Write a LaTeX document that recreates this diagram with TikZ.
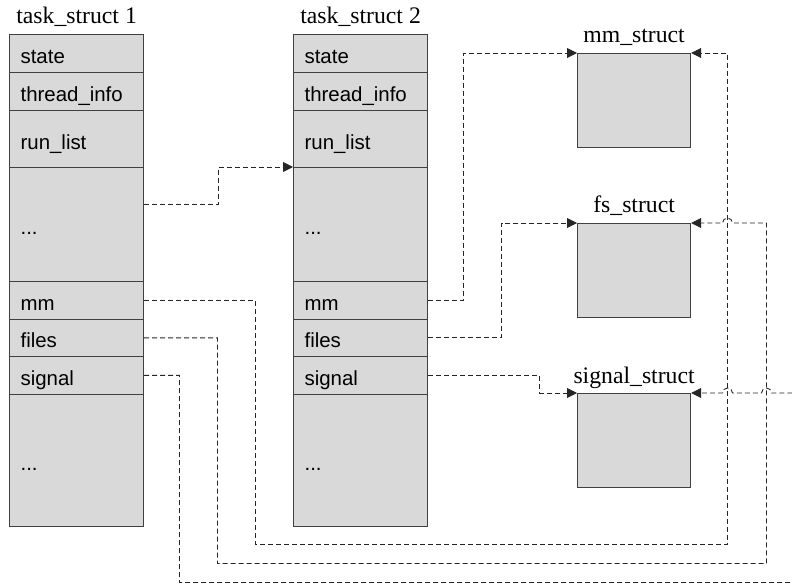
\documentclass[tikz,border=0pt]{standalone}
\usepackage{fontspec}
\setmainfont{Liberation Serif}
\newfontfamily\fieldfont{Liberation Sans}
\usetikzlibrary{arrows.meta, positioning}
\definecolor{boxfill}{HTML}{D9D9D9}
\definecolor{boxline}{HTML}{404040}

\begin{document}
\begin{tikzpicture}[x=1bp, y=-1bp,
    field/.style={draw=boxline, fill=boxfill, line width=1.2bp, anchor=north west,
      minimum width=134bp, text width=112bp, inner xsep=11bp, align=left,
      text height=20bp, text depth=0bp,
      font=\fieldfont\fontsize{20.5}{24}\selectfont},
    sbox/.style={draw=boxline, fill=boxfill, line width=1.2bp, anchor=north west,
      minimum width=113bp, minimum height=94bp},
    title/.style={font=\fontsize{23.8}{28}\selectfont, inner sep=0pt},
    link/.style={draw=black!85, line width=0.9bp, dash pattern=on 5bp off 3bp,
      -{Triangle[length=10bp,width=10bp]}}]
  \useasboundingbox (0,0) rectangle (792,584);
  % the two task structs
  \foreach \s/\x/\n in {a/9/1, b/293/2} {
    \node[field, minimum height=38bp] (\s-state) at (\x,34) {state};
    \node[field, minimum height=38bp] (\s-thread) at (\x,72) {thread\_info};
    \node[field, minimum height=57bp] (\s-run) at (\x,110) {run\_list};
    \node[field, minimum height=114bp] (\s-dots1) at (\x,167) {...};
    \node[field, minimum height=37.5bp] (\s-mm) at (\x,281) {mm};
    \node[field, minimum height=37.5bp] (\s-files) at (\x,318.5) {files};
    \node[field, minimum height=37.5bp] (\s-signal) at (\x,356) {signal};
    \node[field, minimum height=132.5bp] (\s-dots2) at (\x,393.5) {...};
    \node[title, above=10bp of \s-state.north, anchor=base] (\s-title) {task\_struct \n};
  }
  % shared structs
  \node[sbox] (mm) at (577,53) {};
  \node[sbox] (fs) at (577,223) {};
  \node[sbox] (sig) at (577,393) {};
  \node[title, above=10bp of mm.north, anchor=base] (mm-title) {mm\_struct};
  \node[title, above=10bp of fs.north, anchor=base] (fs-title) {fs\_struct};
  \node[title, above=10bp of sig.north, anchor=base] (sig-title) {signal\_struct};
  % links
  \draw[link] ([yshift=-37.5bp]a-dots1.north east) -- ++(74.5,0) |- (b-dots1.north west);
  \draw[link] (b-mm.east) -- ++(35.5,0) |- (mm.north west);
  \draw[link] (b-files.east) -- ++(73.5,0) |- (fs.north west);
  \draw[link] (b-signal.east) -- ++(111.5,0) |- (sig.north west);
  \draw[link] (a-mm.east) -| (255.5,544.5) -| (727.5,53) -- (mm.north east);
  \draw[link] (a-files.east) -| (217.5,563.5) -| (766.5,223) -- (732.5,223)
    arc[start angle=0, end angle=180, radius=5bp] -- (fs.north east);
  \draw[link] (a-signal.east) -| (179.5,582.5) -| (798,393) -- (771.5,393)
    arc[start angle=0, end angle=180, radius=5bp] -- (732.5,393)
    arc[start angle=0, end angle=180, radius=5bp] -- (sig.north east);
\end{tikzpicture}
\end{document}
